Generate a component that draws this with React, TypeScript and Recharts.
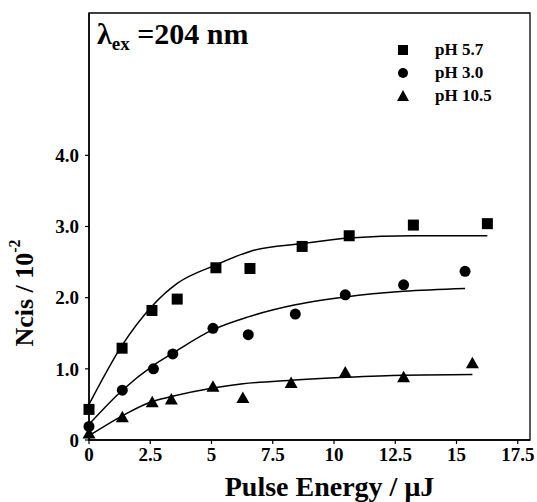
import React from "react";
import {
  ComposedChart,
  Scatter,
  Line,
  XAxis,
  YAxis,
  ReferenceArea,
  Legend
} from "recharts";

const energy57 = [0, 1.35, 2.57, 3.6, 5.18, 6.57, 8.7, 10.62, 13.24, 16.26];
const ncis57 = [0.43, 1.29, 1.82, 1.98, 2.42, 2.41, 2.72, 2.87, 3.02, 3.04];
const fit57 = [0.5, 1.33, 1.88, 2.2, 2.46, 2.65, 2.76, 2.84, 2.87, 2.87];

const energy30 = [0, 1.36, 2.63, 3.42, 5.06, 6.5, 8.42, 10.46, 12.84, 15.35];
const ncis30 = [0.19, 0.7, 1.0, 1.21, 1.57, 1.48, 1.77, 2.04, 2.18, 2.37];
const fit30 = [0.22, 0.7, 1.05, 1.22, 1.55, 1.73, 1.9, 2.01, 2.09, 2.13];

const energy105 = [0, 1.36, 2.58, 3.36, 5.06, 6.28, 8.25, 10.46, 12.84, 15.65];
const ncis105 = [0.09, 0.32, 0.53, 0.57, 0.75, 0.59, 0.8, 0.95, 0.88, 1.08];
const fit105 = [0.06, 0.34, 0.54, 0.61, 0.73, 0.79, 0.84, 0.88, 0.91, 0.92];

const xTicks = [0, 2.5, 5, 7.5, 10, 12.5, 15, 17.5];
const yTicks = [0, 1, 2, 3, 4];
const seriesNames = ["pH 5.7", "pH 3.0", "pH 10.5"];

const FONT = "'Liberation Serif', 'Times New Roman', serif";

const toRows = (xs: number[], ys: number[], fits: number[]) =>
  xs.map((x, i) => ({ x, y: ys[i], fit: fits[i] }));

const rows57 = toRows(energy57, ncis57, fit57);
const rows30 = toRows(energy30, ncis30, fit30);
const rows105 = toRows(energy105, ncis105, fit105);

const SquareDot = (p: any) => (
  <rect x={p.cx - 5.5} y={p.cy - 5.5} width={11} height={11} fill="#000" />
);
const CircleDot = (p: any) => <circle cx={p.cx} cy={p.cy} r={5.5} fill="#000" />;
const TriangleDot = (p: any) => (
  <polygon
    points={`${p.cx},${p.cy - 6.5} ${p.cx + 6.5},${p.cy + 5} ${p.cx - 6.5},${p.cy + 5}`}
    fill="#000"
  />
);

const markerIcons = [
  <rect key="s" x={3} y={3} width={10} height={10} fill="#000" />,
  <circle key="c" cx={8} cy={8} r={5} fill="#000" />,
  <polygon key="t" points="8,2 14,13 2,13" fill="#000" />
];

const LegendBox = () => (
  <div style={{ fontFamily: FONT, fontWeight: 700, fontSize: 17, color: "#000" }}>
    {seriesNames.map((name, i) => (
      <div key={name} style={{ display: "flex", alignItems: "center", height: 23 }}>
        <svg width={16} height={16} style={{ marginRight: 24 }}>
          {markerIcons[i]}
        </svg>
        <span>{name}</span>
      </div>
    ))}
  </div>
);

const XLabel = (props: any) => {
  const vb = props.viewBox;
  return (
    <text
      x={vb.x + vb.width / 2 + 20}
      y={vb.y + 56}
      textAnchor="middle"
      fontFamily={FONT}
      fontWeight={700}
      fontSize={28}
      fill="#000"
    >
      Pulse Energy / μJ
    </text>
  );
};

const YLabel = () => {
  const cx = 24;
  const cy = 293;
  return (
    <text
      x={cx}
      y={cy}
      transform={`rotate(-90, ${cx}, ${cy})`}
      textAnchor="middle"
      dominantBaseline="central"
      fontFamily={FONT}
      fontWeight={700}
      fontSize={26}
      fill="#000"
    >
      <tspan>Ncis / 10</tspan>
      <tspan dy={-10} fontSize={16}>-2</tspan>
    </text>
  );
};

const tickStyle = { fill: "#000", fontSize: 19, fontWeight: 700, fontFamily: FONT };

export default function App() {
  return (
    <div style={{ position: "absolute", left: 0, top: 0, width: 537, height: 502, background: "#fff" }}>
      <ComposedChart width={537} height={502} margin={{ top: 13, right: 7, bottom: 0, left: 0 }}>
        <XAxis
          type="number"
          dataKey="x"
          domain={[0, 18]}
          ticks={xTicks}
          tickFormatter={(v) => String(v)}
          height={62}
          tickSize={4}
          tickMargin={4}
          tick={tickStyle}
          axisLine={{ stroke: "#000", strokeWidth: 1.5 }}
          tickLine={{ stroke: "#000", strokeWidth: 1.2 }}
          label={{ content: XLabel }}
        />
        <YAxis
          type="number"
          domain={[0, 6]}
          ticks={yTicks}
          tickFormatter={(v) => (v === 0 ? "0" : v.toFixed(1))}
          width={89}
          tickSize={4}
          tickMargin={6}
          tick={tickStyle}
          axisLine={{ stroke: "#000", strokeWidth: 1.5 }}
          tickLine={{ stroke: "#000", strokeWidth: 1.2 }}
          label={{ content: YLabel }}
        />
        <ReferenceArea x1={0} x2={18} y1={0} y2={6} fill="none" stroke="#000" strokeWidth={1.3} />
        <Line data={rows57} dataKey="fit" type="monotone" stroke="#000" strokeWidth={1.5} dot={false} isAnimationActive={false} />
        <Line data={rows30} dataKey="fit" type="monotone" stroke="#000" strokeWidth={1.5} dot={false} isAnimationActive={false} />
        <Line data={rows105} dataKey="fit" type="monotone" stroke="#000" strokeWidth={1.5} dot={false} isAnimationActive={false} />
        <Scatter data={rows57} dataKey="y" name={seriesNames[0]} shape={SquareDot} isAnimationActive={false} />
        <Scatter data={rows30} dataKey="y" name={seriesNames[1]} shape={CircleDot} isAnimationActive={false} />
        <Scatter data={rows105} dataKey="y" name={seriesNames[2]} shape={TriangleDot} isAnimationActive={false} />
        <Legend
          layout="vertical"
          align="center"
          verticalAlign="middle"
          content={LegendBox}
          wrapperStyle={{ left: 395, top: 38, width: 140 }}
        />
      </ComposedChart>
      <div
        style={{
          position: "absolute",
          left: 97,
          top: 19,
          fontFamily: FONT,
          fontWeight: 700,
          fontSize: 30,
          lineHeight: "30px",
          color: "#000",
          whiteSpace: "nowrap"
        }}
      >
        λ<span style={{ fontSize: 19, verticalAlign: -6 }}>ex</span> =204 nm
      </div>
    </div>
  );
}
